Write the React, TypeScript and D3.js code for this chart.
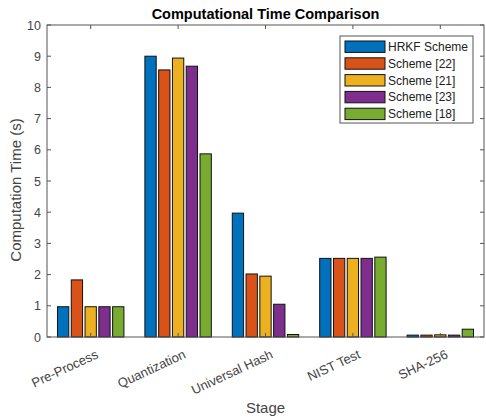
import * as d3 from "d3";

const stages = ["Pre-Process", "Quantization", "Universal Hash", "NIST Test", "SHA-256"];
const schemes = ["HRKF Scheme", "Scheme [22]", "Scheme [21]", "Scheme [23]", "Scheme [18]"];
const colors = ["#0072BD", "#D95319", "#EDB120", "#7E2F8E", "#77AC30"];

// one array per scheme, values per stage (seconds)
const hrkf = [0.97, 9.0, 3.97, 2.52, 0.06];
const s22 = [1.83, 8.56, 2.02, 2.52, 0.06];
const s21 = [0.97, 8.94, 1.95, 2.52, 0.07];
const s23 = [0.97, 8.68, 1.05, 2.52, 0.06];
const s18 = [0.97, 5.87, 0.08, 2.56, 0.25];
const yTicks = [0, 1, 2, 3, 4, 5, 6, 7, 8, 9, 10];

const series = [hrkf, s22, s21, s23, s18];

const W = 486;
const H = 417;
const margin = { top: 25, right: 2, bottom: 80, left: 47 };
const font = "'Liberation Sans', Arial, sans-serif";
const axisColor = "#555";

export default function App() {
  const x = d3
    .scaleBand<string>()
    .domain(stages)
    .range([margin.left, W - margin.right])
    .padding(0);
  const inner = d3
    .scaleBand<string>()
    .domain(schemes)
    .range([-x.bandwidth() * 0.38, x.bandwidth() * 0.38])
    .paddingInner(0.18);
  const y = d3.scaleLinear().domain([0, 10]).range([H - margin.bottom, margin.top]);

  const x0 = margin.left;
  const x1 = W - margin.right;
  const y0 = H - margin.bottom;
  const y1 = margin.top;
  const cx = (x0 + x1) / 2;

  return (
    <svg width={W} height={H} style={{ position: "absolute", left: 0, top: 0, background: "#fff" }} fontFamily={font}>
      <rect width={W} height={H} fill="#fff" />
      {/* bars */}
      {stages.map((st, i) => (
        <g key={st} transform={`translate(${(x(st) || 0) + x.bandwidth() / 2},0)`}>
          {schemes.map((sc, j) => (
            <rect
              key={sc}
              x={inner(sc)}
              y={y(series[j][i])}
              width={inner.bandwidth()}
              height={y(0) - y(series[j][i])}
              fill={colors[j]}
              stroke="#111"
              strokeWidth={1}
            />
          ))}
        </g>
      ))}

      {/* axes box */}
      <rect x={x0} y={y1} width={x1 - x0} height={y0 - y1} fill="none" stroke={axisColor} strokeWidth={1} />

      {/* y ticks */}
      {yTicks.map((t) => (
        <g key={t}>
          <line x1={x0} x2={x0 + 4} y1={y(t)} y2={y(t)} stroke={axisColor} />
          <line x1={x1} x2={x1 - 4} y1={y(t)} y2={y(t)} stroke={axisColor} />
          <text x={x0 - 6} y={y(t)} dy="0.36em" textAnchor="end" fontSize={12.5} fill="#444">
            {t}
          </text>
        </g>
      ))}

      {/* x ticks and rotated labels */}
      {stages.map((st) => {
        const px = (x(st) || 0) + x.bandwidth() / 2;
        return (
          <g key={st}>
            <line x1={px} x2={px} y1={y0} y2={y0 - 4} stroke={axisColor} />
            <line x1={px} x2={px} y1={y1} y2={y1 + 4} stroke={axisColor} />
            <text
              transform={`translate(${px + 4},${y0 + 11}) rotate(-25)`}
              textAnchor="end"
              dy="0.8em"
              fontSize={13}
              fill="#444"
            >
              {st}
            </text>
          </g>
        );
      })}

      {/* title and axis labels */}
      <text x={cx} y={18.5} textAnchor="middle" fontSize={14.5} fontWeight="bold" fill="#000">
        Computational Time Comparison
      </text>
      <text x={cx} y={413} textAnchor="middle" fontSize={15} fill="#444">
        Stage
      </text>
      <text transform={`translate(21,${(y0 + y1) / 2 + 9}) rotate(-90)`} textAnchor="middle" fontSize={15} fill="#444">
        Computation Time (s)
      </text>

      {/* legend */}
      <g>
        <rect x={340} y={36} width={133} height={87} fill="#fff" stroke={axisColor} />
        {schemes.map((sc, j) => {
          const ry = 46.7 + j * 16.8;
          return (
            <g key={sc}>
              <rect x={345} y={ry - 5.7} width={40} height={11.4} fill={colors[j]} stroke="#111" />
              <text x={388} y={ry} dy="0.36em" fontSize={12} fill="#222">
                {sc}
              </text>
            </g>
          );
        })}
      </g>
    </svg>
  );
}
